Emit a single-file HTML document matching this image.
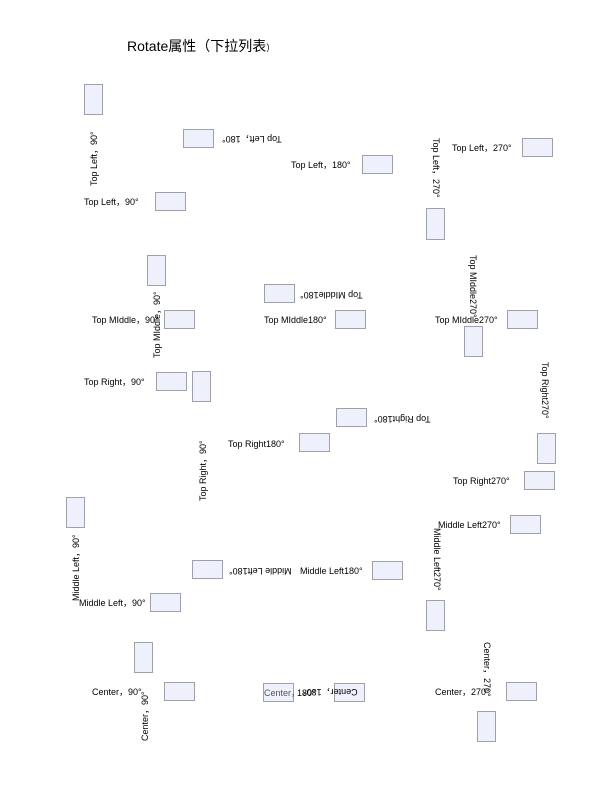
<!DOCTYPE html>
<html><head><meta charset="utf-8"><style>
html,body{margin:0;padding:0;background:#fff;}
body{width:612px;height:792px;position:relative;overflow:hidden;font-family:"Liberation Sans","Noto Sans CJK SC",sans-serif;}
.b{position:absolute;box-sizing:border-box;background:#eef0fc;border:1px solid #a0a0a8;}
.t{position:absolute;font-size:9px;line-height:11px;white-space:nowrap;color:#000;}
.u{transform-origin:0 0;transform:rotate(-90deg);}
.d{transform-origin:0 0;transform:rotate(90deg);}
.f{transform:rotate(180deg);}
</style></head><body>
<div class="t" style="left:127px;top:38px;font-size:14px;line-height:17px;">Rotate属性（下拉列表<span style="font-size:9px">）</span></div>

<div class="b" style="left:84px;top:84px;width:19px;height:31px"></div>
<div class="t u" style="left:89px;top:186px">Top Left，90°</div>
<div class="b" style="left:183px;top:129px;width:31px;height:19px"></div>
<div class="t f" style="left:222px;top:133px">Top Left，180°</div>
<div class="t" style="left:291px;top:160px">Top Left，180°</div>
<div class="b" style="left:362px;top:155px;width:31px;height:19px"></div>
<div class="t" style="left:84px;top:197px">Top Left，90°</div>
<div class="b" style="left:155px;top:192px;width:31px;height:19px"></div>
<div class="t d" style="left:441px;top:138px">Top Left，270°</div>
<div class="b" style="left:426px;top:208px;width:19px;height:32px"></div>
<div class="t" style="left:452px;top:143px">Top Left，270°</div>
<div class="b" style="left:522px;top:138px;width:31px;height:19px"></div>

<div class="b" style="left:147px;top:255px;width:19px;height:31px"></div>
<div class="t u" style="left:152px;top:358px">Top MIddle，90°</div>
<div class="b" style="left:264px;top:284px;width:31px;height:19px"></div>
<div class="t f" style="left:300px;top:289px">Top MIddle180°</div>
<div class="t" style="left:92px;top:315px">Top MIddle，90°</div>
<div class="b" style="left:164px;top:310px;width:31px;height:19px"></div>
<div class="t" style="left:264px;top:315px">Top MIddle180°</div>
<div class="b" style="left:335px;top:310px;width:31px;height:19px"></div>
<div class="t d" style="left:478px;top:255px">Top MIddle270°</div>
<div class="t" style="left:435px;top:315px">Top MIddle270°</div>
<div class="b" style="left:507px;top:310px;width:31px;height:19px"></div>
<div class="b" style="left:464px;top:326px;width:19px;height:31px"></div>

<div class="t" style="left:84px;top:377px">Top Right，90°</div>
<div class="b" style="left:156px;top:372px;width:31px;height:19px"></div>
<div class="b" style="left:192px;top:371px;width:19px;height:31px"></div>
<div class="t u" style="left:198px;top:501px">Top Right，90°</div>
<div class="b" style="left:336px;top:408px;width:31px;height:19px"></div>
<div class="t f" style="left:374px;top:413px">Top Right180°</div>
<div class="t" style="left:228px;top:439px">Top Right180°</div>
<div class="b" style="left:299px;top:433px;width:31px;height:19px"></div>
<div class="t d" style="left:550px;top:362px">Top Right270°</div>
<div class="b" style="left:537px;top:433px;width:19px;height:31px"></div>
<div class="t" style="left:453px;top:476px">Top Right270°</div>
<div class="b" style="left:524px;top:471px;width:31px;height:19px"></div>

<div class="b" style="left:66px;top:497px;width:19px;height:31px"></div>
<div class="t u" style="left:71px;top:601px">Middle Left，90°</div>
<div class="t" style="left:438px;top:520px">Middle Left270°</div>
<div class="b" style="left:510px;top:515px;width:31px;height:19px"></div>
<div class="t d" style="left:442px;top:528px">Middle Left270°</div>
<div class="b" style="left:426px;top:600px;width:19px;height:31px"></div>
<div class="b" style="left:192px;top:560px;width:31px;height:19px"></div>
<div class="t f" style="left:229px;top:565px">Middle Left180°</div>
<div class="t" style="left:300px;top:566px">Middle Left180°</div>
<div class="b" style="left:372px;top:561px;width:31px;height:19px"></div>
<div class="t" style="left:79px;top:598px">Middle Left，90°</div>
<div class="b" style="left:150px;top:593px;width:31px;height:19px"></div>

<div class="b" style="left:134px;top:642px;width:19px;height:31px"></div>
<div class="t u" style="left:140px;top:741px">Center，90°</div>
<div class="t" style="left:92px;top:687px">Center，90°</div>
<div class="b" style="left:164px;top:682px;width:31px;height:19px"></div>
<div class="b" style="left:263px;top:683px;width:31px;height:19px"></div>
<div class="t" style="left:264px;top:688px;color:#555">Center，<span style="color:#000;margin-left:-3px">180°</span></div>
<div class="b" style="left:334px;top:683px;width:31px;height:19px"></div>
<div class="t f" style="left:303px;top:686px">Center，180°</div>
<div class="t" style="left:435px;top:687px">Center，270°</div>
<div class="b" style="left:506px;top:682px;width:31px;height:19px"></div>
<div class="t d" style="left:492px;top:642px">Center，270°</div>
<div class="b" style="left:477px;top:711px;width:19px;height:31px"></div>
</body></html>
